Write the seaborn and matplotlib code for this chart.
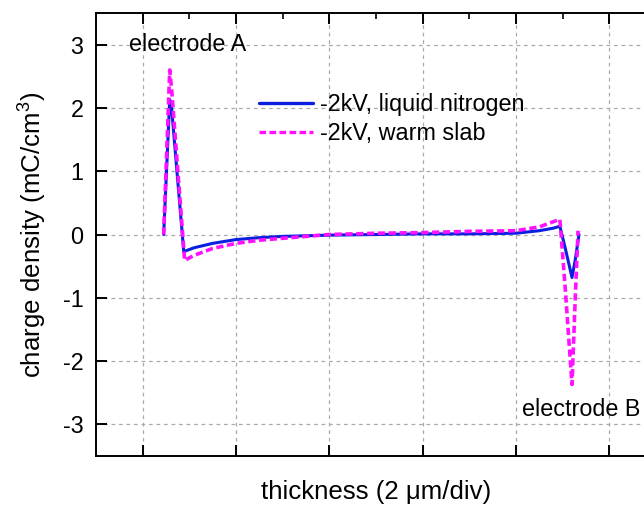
import numpy as np
import pandas as pd
import matplotlib
matplotlib.use("Agg")
import matplotlib.pyplot as plt
import seaborn as sns

# data (x in micrometres, y in mC/cm^3)
x_ln = [2.45, 2.58, 2.62, 2.88, 3.1, 3.5, 4.0, 4.5, 5.0, 5.5, 6.0, 7.0,
        8.0, 9.0, 10.0, 10.5, 10.8, 10.94, 11.05, 11.2, 11.27, 11.35]
y_ln = [0.0, 2.13, 2.0, -0.27, -0.21, -0.14, -0.08, -0.05, -0.03, -0.02, -0.01, 0.0,
        0.01, 0.01, 0.02, 0.06, 0.10, 0.13, -0.2, -0.68, -0.4, 0.0]
x_ws = [2.45, 2.58, 2.62, 2.9, 3.1, 3.5, 4.0, 4.5, 5.0, 5.5, 6.0, 7.0,
        8.0, 8.5, 9.0, 10.0, 10.5, 10.94, 11.05, 11.2, 11.27, 11.33]
y_ws = [0.0, 2.6, 2.3, -0.41, -0.33, -0.22, -0.14, -0.09, -0.06, -0.03, 0.0, 0.02,
        0.03, 0.04, 0.05, 0.06, 0.12, 0.24, -0.8, -2.37, -1.0, 0.06]
labels = ["-2kV, liquid nitrogen", "-2kV, warm slab"]
y_ticks = [-3, -2, -1, 0, 1, 2, 3]

sns.set_style("white")
plt.rcParams["font.family"] = ["Liberation Sans", "DejaVu Sans"]
plt.rcParams["axes.unicode_minus"] = False
plt.rcParams["mathtext.fontset"] = "custom"
plt.rcParams["mathtext.rm"] = "Liberation Sans"
plt.rcParams["mathtext.it"] = "Liberation Sans:italic"
plt.rcParams["text.color"] = "black"
plt.rcParams["axes.labelcolor"] = "black"
plt.rcParams["xtick.color"] = "black"
plt.rcParams["ytick.color"] = "black"

FS = 16.8
LFS = 18.6
fig = plt.figure(figsize=(6.44, 5.05), dpi=100)
ax = fig.add_axes([96/644, (505-456)/505, (656-96)/644, (456-13)/505])

df = pd.concat([
    pd.DataFrame({"x": x_ln, "y": y_ln, "s": labels[0]}),
    pd.DataFrame({"x": x_ws, "y": y_ws, "s": labels[1]}),
])
sns.lineplot(data=df, x="x", y="y", hue="s", style="s", sort=False,
             palette={labels[0]: "#0a1fe0", labels[1]: "#ff10ff"},
             dashes={labels[0]: "", labels[1]: (2, 1)},
             linewidth=2.4, ax=ax, legend=True)
for ln, lw in zip(ax.lines, [2.2, 2.6]):
    ln.set_linewidth(lw)

ax.set_xlim(1, 13)
ax.set_ylim(-3.5, 3.5)
ax.set_xticks([2, 4, 6, 8, 10, 12])
ax.set_xticks([3, 5, 7, 9, 11], minor=True)
ax.set_xticklabels([])
ax.set_yticks(y_ticks)
ax.set_yticklabels([str(v) for v in y_ticks], fontsize=FS)
ax.grid(True, which="major", color="#aaaaaa", linestyle=(0, (3, 3)), linewidth=0.9)
ax.tick_params(axis="both", which="major", direction="in", length=8, width=1.4, color="black")
ax.tick_params(axis="x", which="major", top=True, bottom=True)
ax.tick_params(axis="x", which="minor", top=True, bottom=False, direction="in", length=4, width=1.2)
ax.tick_params(axis="y", which="major", left=True, right=True, pad=9)
for sp in ax.spines.values():
    sp.set_color("black")
    sp.set_linewidth(1.4)

ax.set_xlabel("thickness (2 μm/div)", fontsize=LFS, labelpad=14)
ax.set_ylabel("charge density (mC/cm$^3$)", fontsize=LFS, labelpad=10)

ax.text(1.70, 3.0, "electrode A", fontsize=FS, va="center", ha="left")
ax.text(10.12, -2.76, "electrode B", fontsize=FS, va="center", ha="left")

leg = ax.legend(loc="upper left", bbox_to_anchor=(259/644, 1 - 93/505),
                bbox_transform=fig.transFigure, frameon=False, fontsize=FS,
                handlelength=2.3, handletextpad=0.3, labelspacing=0.25,
                borderpad=0, borderaxespad=0)

fig.savefig("out.png", dpi=100)
